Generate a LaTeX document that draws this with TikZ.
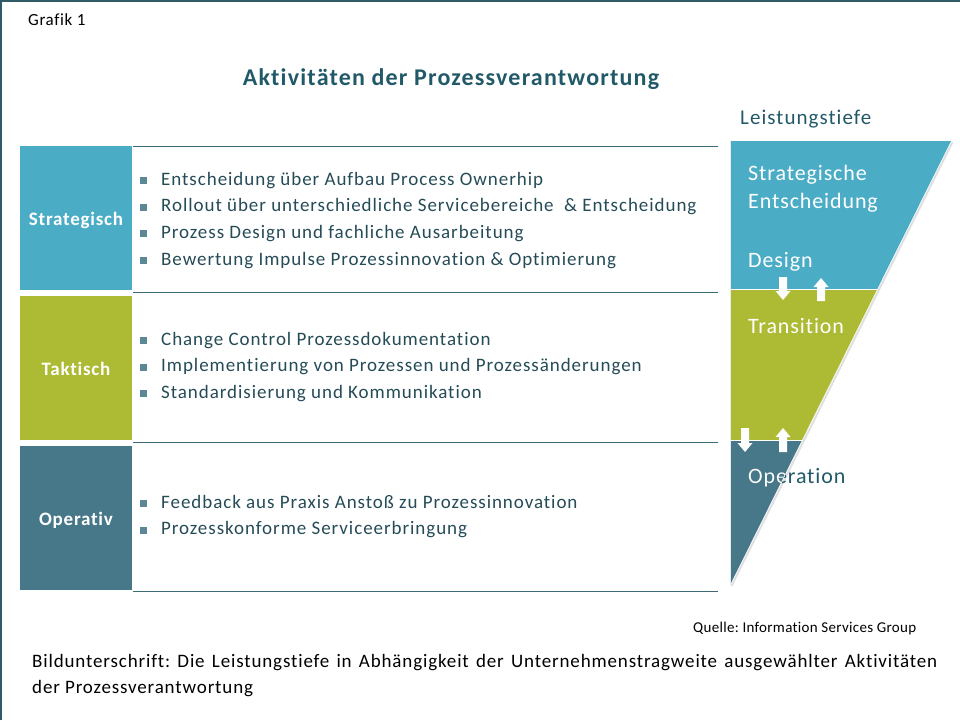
\documentclass[tikz,border=0pt]{standalone}
\usepackage{fontspec}
\setmainfont{Carlito}[Ligatures=NoCommon]
\usetikzlibrary{calc}
\frenchspacing
\definecolor{cblue}{HTML}{4BACC6}
\definecolor{cgreen}{HTML}{ADBA34}
\definecolor{cdark}{HTML}{47788A}
\definecolor{cline}{HTML}{3E6A76}
\definecolor{ctitle}{HTML}{215968}
\definecolor{ctext}{HTML}{254B57}
\definecolor{cbullet}{HTML}{5C8794}
\definecolor{cframe}{HTML}{2F5A66}
\newcommand\myitem[3]{%
  \node[bulletsq] (#1sq) at (143.5,#2-4.5) {};
  \node[bullettext] (#1) at (161,#2) {#3};}
\newcommand\fnt[3]{\addfontfeatures{LetterSpace=#3}\fontsize{#1}{#2}\selectfont}
\begin{document}
\begin{tikzpicture}[x=1pt,y=-1pt,
  bullettext/.style={anchor=base west,inner sep=0pt,text=ctext,font=\fnt{19}{23}{5}},
  bulletsq/.style={fill=cbullet,minimum size=7pt,inner sep=0pt,draw=none},
  catlabel/.style={anchor=base,inner sep=0pt,text=white,font=\bfseries\fnt{19}{23}{4}},
  sepline/.style={draw=cline,line width=1pt},
  funtext/.style={anchor=base west,inner sep=0pt,text=white,font=\fnt{22}{26}{4}},
  blockarrow/.style={fill=white,draw=none}]
\useasboundingbox (0,0) rectangle (960,720);
% frame
\draw[cframe,line width=1.5pt] (1,720) -- (1,1) -- (960,1);
% header texts
\node[anchor=base west,inner sep=0pt,font=\fnt{17}{20}{3.5}] (grafik) at (28,25) {Grafik 1};
\node[anchor=base,inner sep=0pt,text=ctitle,font=\bfseries\fnt{24}{28}{5}] (title) at (451,85) {Aktivitäten der Prozessverantwortung};
\node[anchor=base west,inner sep=0pt,text=ctitle,font=\fnt{21}{25}{5}] (leist) at (740,124) {Leistungstiefe};
% category boxes
\fill[cblue] (20,146) rectangle (132,290);
\fill[cgreen] (20,296) rectangle (132,440);
\fill[cdark] (20,446) rectangle (132,590);
\node[catlabel] (lstrat) at (76,225) {Strategisch};
\node[catlabel] (ltakt) at (76,375) {Taktisch};
\node[catlabel] (lop) at (76,525) {Operativ};
% separator lines
\draw[sepline] (133,146) -- (718,146);
\draw[sepline] (133,292) -- (718,292);
\draw[sepline] (133,442) -- (718,442);
\draw[sepline] (133,591) -- (718,591);
% bullets
\myitem{s1}{185}{Entscheidung über Aufbau Process Ownerhip}
\myitem{s2}{211.7}{Rollout über unterschiedliche Servicebereiche \ \& Entscheidung}
\myitem{s3}{238.4}{Prozess Design und fachliche Ausarbeitung}
\myitem{s4}{265.1}{Bewertung Impulse Prozessinnovation \& Optimierung}
\myitem{t1}{345}{Change Control Prozessdokumentation}
\myitem{t2}{371.7}{Implementierung von Prozessen und Prozessänderungen}
\myitem{t3}{398.4}{Standardisierung und Kommunikation}
\myitem{o1}{508}{Feedback aus Praxis Anstoß zu Prozessinnovation}
\myitem{o2}{534.7}{Prozesskonforme Serviceerbringung}
% funnel
\coordinate (ftl) at (730,141);
\coordinate (ftr) at (951,141);
\coordinate (fml) at (730,289.5);
\coordinate (fmr) at (877,289.5);
\coordinate (fll) at (730,440);
\coordinate (flr) at (802,440);
\coordinate (ftip) at (730,585);
\draw[black!12,line width=2pt] (952.5,142) -- (731.5,586);
\fill[cblue] (ftl) -- (ftr) -- (fmr) -- (fml) -- cycle;
\fill[cgreen] (fml) -- (fmr) -- (flr) -- (fll) -- cycle;
\fill[cdark] (fll) -- (flr) -- (ftip) -- cycle;
\draw[white,line width=1pt] (fml) -- (fmr);
\draw[white,line width=1pt] (fll) -- (flr);
\draw[black!8,line width=0.6pt] (ftl) -- (ftip);
\node[funtext] (fstrat) at (748,180) {Strategische};
\node[funtext] (fent) at (748,208) {Entscheidung};
\node[funtext] (fdes) at (748,267) {Design};
\node[funtext] (ftrans) at (748,333) {Transition};
\node[funtext,text=ctitle] (fop) at (748,483) {Operation};
\begin{scope}
\clip (fll) -- (flr) -- (ftip) -- cycle;
\node[funtext] (fopw) at (748,483) {Operation};
\end{scope}
% block arrows
\fill[blockarrow] (779,277) -- (787,277) -- (787,291) -- (790.5,291) -- (783,300) -- (775.5,291) -- (779,291) -- cycle;
\fill[blockarrow] (817,301) -- (825,301) -- (825,287) -- (828.5,287) -- (821,278) -- (813.5,287) -- (817,287) -- cycle;
\fill[blockarrow] (741,428) -- (749,428) -- (749,443) -- (752.5,443) -- (745,452) -- (737.5,443) -- (741,443) -- cycle;
\fill[blockarrow] (779,452) -- (787,452) -- (787,437) -- (790.5,437) -- (783,428) -- (775.5,437) -- (779,437) -- cycle;
% source and caption
\node[anchor=base west,inner sep=0pt,font=\fnt{15}{18}{2}] (quelle) at (693,632) {Quelle: Information Services Group};
\node[anchor=base west,inner sep=0pt,font=\fnt{19}{23}{4.5}] (cap1) at (32,667) {\makebox[905pt][s]{Bildunterschrift: Die Leistungstiefe in Abhängigkeit der Unternehmenstragweite ausgewählter Aktivitäten}};
\node[anchor=base west,inner sep=0pt,font=\fnt{19}{23}{4.5}] (cap2) at (32,693) {der Prozessverantwortung};
\end{tikzpicture}
\end{document}
